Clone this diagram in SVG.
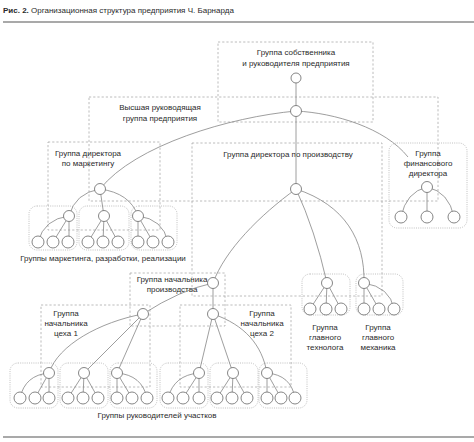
<svg xmlns="http://www.w3.org/2000/svg" width="474" height="442" viewBox="0 0 474 442">
<style>
text{font-family:"Liberation Sans","DejaVu Sans",sans-serif;font-size:8px;fill:#2a2a2a}
.m{text-anchor:middle}
.dash{fill:none;stroke:#a6a6a6;stroke-width:0.75;stroke-dasharray:2.2,2}
.dot{fill:none;stroke:#b0b0b0;stroke-width:0.8;stroke-dasharray:1,1.2}
.ln{fill:none;stroke:#858585;stroke-width:0.8}
.n circle{fill:#fff;stroke:#707070;stroke-width:0.85}
.rule{stroke:#555;stroke-width:1.2}
</style>
<rect width="474" height="442" fill="#fff"/>
<text x="3" y="13"><tspan font-weight="bold">Рис. 2.</tspan> Организационная структура предприятия Ч. Барнарда</text>
<line class="rule" x1="3" y1="22" x2="474" y2="22"/>
<line class="rule" x1="3" y1="437" x2="474" y2="437"/>

<g id="frames">
<rect class="dash" x="218" y="42" width="155" height="80"/>
<rect class="dash" x="89" y="97" width="349" height="104"/>
<rect class="dash" x="48" y="142" width="112" height="88"/>
<rect class="dash" x="192" y="143" width="190" height="153"/>
<rect class="dash" x="130" y="273" width="95" height="53"/>
<rect class="dash" x="41" y="305" width="109" height="82"/>
<rect class="dash" x="180" y="305" width="111" height="82"/>
<rect class="dot" x="389" y="143" width="78" height="85" rx="8"/>
<rect class="dot" x="29" y="206" width="48" height="44" rx="8"/>
<rect class="dot" x="79" y="206" width="50" height="44" rx="8"/>
<rect class="dot" x="131" y="206" width="46" height="44" rx="8"/>
<rect class="dot" x="302" y="274" width="48" height="41" rx="8"/>
<rect class="dot" x="356" y="274" width="47" height="41" rx="8"/>
<rect class="dot" x="10" y="363" width="48" height="45" rx="8"/>
<rect class="dot" x="60" y="363" width="48" height="45" rx="8"/>
<rect class="dot" x="110" y="363" width="47" height="45" rx="8"/>
<rect class="dot" x="160" y="363" width="48" height="45" rx="8"/>
<rect class="dot" x="210" y="363" width="48" height="45" rx="8"/>
<rect class="dot" x="259" y="363" width="48" height="45" rx="8"/>
</g>

<g id="labels">
<text class="m" x="296" y="55">Группа собственника</text>
<text class="m" x="296" y="66">и руководителя предприятия</text>
<text class="m" x="160" y="110">Высшая руководящая</text>
<text class="m" x="160" y="121">группа предприятия</text>
<text class="m" x="88" y="156">Группа директора</text>
<text class="m" x="88" y="166">по маркетингу</text>
<text class="m" x="288" y="157">Группа директора по производству</text>
<text class="m" x="428" y="156">Группа</text>
<text class="m" x="428" y="166">финансового</text>
<text class="m" x="428" y="176">директора</text>
<text class="m" x="103" y="261">Группы маркетинга, разработки, реализации</text>
<text class="m" x="172" y="282">Группа начальника</text>
<text class="m" x="172" y="292">производства</text>
<text class="m" x="66" y="316">Группа</text>
<text class="m" x="66" y="326">начальника</text>
<text class="m" x="66" y="336">цеха 1</text>
<text class="m" x="262" y="316">Группа</text>
<text class="m" x="262" y="326">начальника</text>
<text class="m" x="262" y="336">цеха 2</text>
<text class="m" x="325" y="330">Группа</text>
<text class="m" x="325" y="340">главного</text>
<text class="m" x="325" y="350">технолога</text>
<text class="m" x="378" y="330">Группа</text>
<text class="m" x="378" y="340">главного</text>
<text class="m" x="378" y="350">механика</text>
<text class="m" x="157" y="418">Группы руководителей участков</text>
</g>

<g id="connectors" class="ln">
<path d="M296,78 V111"/>
<path d="M296,111 C230,117 135,145 100,189"/>
<path d="M296,111 C335,113 385,128 408,157"/>
<path d="M296,111 V189"/>
<path d="M100,189 Q75,193 69,216"/>
<path d="M100,189 L104,216"/>
<path d="M100,189 Q130,193 138,216"/>
<path d="M69,216 Q44,219 38,242"/><path d="M69,216 L53,242"/><path d="M69,216 V242"/>
<path d="M104,216 L88,242"/><path d="M104,216 L103,242"/><path d="M104,216 L118,242"/>
<path d="M138,216 V242"/><path d="M138,216 L153,242"/><path d="M138,216 Q163,219 168,242"/>
<path d="M427,187 Q406,192 401,217"/><path d="M427,187 V217"/><path d="M427,187 Q449,192 454,217"/>
<path d="M296,189 C260,215 225,250 213,283"/>
<path d="M296,189 Q315,230 327,283"/>
<path d="M296,189 C345,205 365,240 364,283"/>
<path d="M327,283 L310,309"/><path d="M327,283 L326,309"/><path d="M327,283 L341,309"/>
<path d="M364,283 V309"/><path d="M364,283 L379,309"/><path d="M364,283 Q390,287 394,309"/>
<path d="M213,283 Q180,290 143,314"/>
<path d="M213,283 V314"/>
<path d="M143,314 C100,322 58,345 49,373"/>
<path d="M143,314 L84,373"/>
<path d="M143,314 L117,373"/>
<path d="M213,314 L199,373"/>
<path d="M213,314 L233,373"/>
<path d="M213,314 C245,325 262,345 267,373"/>
<path d="M49,373 Q25,375 20,398"/><path d="M49,373 L35,398"/><path d="M49,373 V398"/>
<path d="M84,373 L68,398"/><path d="M84,373 L83,398"/><path d="M84,373 L98,398"/>
<path d="M117,373 V398"/><path d="M117,373 L132,398"/><path d="M117,373 Q142,375 147,398"/>
<path d="M199,373 Q174,375 168,398"/><path d="M199,373 L183,398"/><path d="M199,373 V398"/>
<path d="M233,373 L217,398"/><path d="M233,373 L232,398"/><path d="M233,373 L247,398"/>
<path d="M267,373 V398"/><path d="M267,373 L281,398"/><path d="M267,373 Q291,375 295,398"/>
</g>

<g id="nodes" class="n">
<g id="owner"><circle cx="296" cy="78" r="5"/></g>
<g id="top"><circle cx="296" cy="111" r="5.5"/></g>
<g id="dir-marketing"><circle cx="100" cy="189" r="5.5"/></g>
<g id="dir-production"><circle cx="296" cy="189" r="5.5"/></g>
<g id="dir-finance"><circle cx="427" cy="187" r="5.5"/>
<circle cx="401" cy="217" r="6"/><circle cx="427" cy="217" r="6"/><circle cx="454" cy="217" r="6"/></g>
<g id="mkt-1"><circle cx="69" cy="216" r="5.5"/><circle cx="38" cy="242" r="6"/><circle cx="53" cy="242" r="6"/><circle cx="68" cy="242" r="6"/></g>
<g id="mkt-2"><circle cx="104" cy="216" r="5.5"/><circle cx="88" cy="242" r="6"/><circle cx="103" cy="242" r="6"/><circle cx="118" cy="242" r="6"/></g>
<g id="mkt-3"><circle cx="138" cy="216" r="5.5"/><circle cx="138" cy="242" r="6"/><circle cx="153" cy="242" r="6"/><circle cx="168" cy="242" r="6"/></g>
<g id="technologist"><circle cx="327" cy="283" r="5.5"/><circle cx="310" cy="309" r="6"/><circle cx="326" cy="309" r="6"/><circle cx="341" cy="309" r="6"/></g>
<g id="mechanic"><circle cx="364" cy="283" r="5.5"/><circle cx="364" cy="309" r="6"/><circle cx="379" cy="309" r="6"/><circle cx="394" cy="309" r="6"/></g>
<g id="prod-chief"><circle cx="213" cy="283" r="5.5"/></g>
<g id="shop-1"><circle cx="143" cy="314" r="5.5"/></g>
<g id="shop-2"><circle cx="213" cy="314" r="5.5"/></g>
<g id="sec-1"><circle cx="49" cy="373" r="5.5"/><circle cx="20" cy="398" r="6"/><circle cx="35" cy="398" r="6"/><circle cx="49" cy="398" r="6"/></g>
<g id="sec-2"><circle cx="84" cy="373" r="5.5"/><circle cx="68" cy="398" r="6"/><circle cx="83" cy="398" r="6"/><circle cx="98" cy="398" r="6"/></g>
<g id="sec-3"><circle cx="117" cy="373" r="5.5"/><circle cx="117" cy="398" r="6"/><circle cx="132" cy="398" r="6"/><circle cx="147" cy="398" r="6"/></g>
<g id="sec-4"><circle cx="199" cy="373" r="5.5"/><circle cx="168" cy="398" r="6"/><circle cx="183" cy="398" r="6"/><circle cx="199" cy="398" r="6"/></g>
<g id="sec-5"><circle cx="233" cy="373" r="5.5"/><circle cx="217" cy="398" r="6"/><circle cx="232" cy="398" r="6"/><circle cx="247" cy="398" r="6"/></g>
<g id="sec-6"><circle cx="267" cy="373" r="5.5"/><circle cx="267" cy="398" r="6"/><circle cx="281" cy="398" r="6"/><circle cx="295" cy="398" r="6"/></g>
</g>
</svg>
